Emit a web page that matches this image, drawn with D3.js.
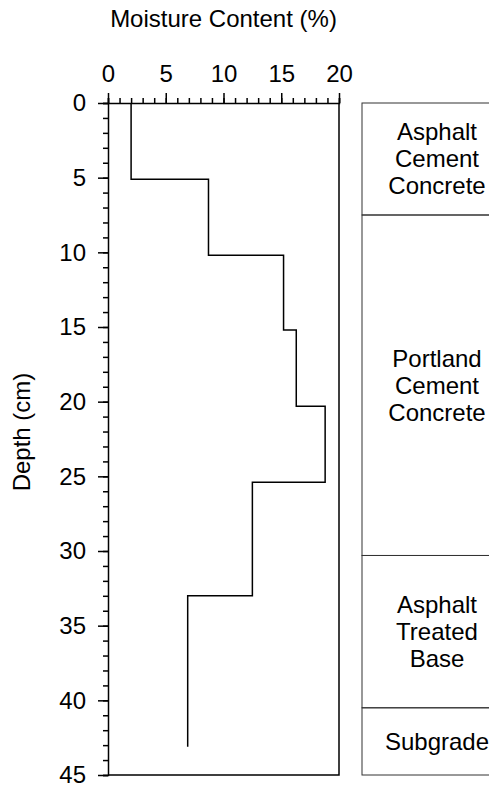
<!DOCTYPE html>
<html>
<head>
<meta charset="utf-8">
<script src="https://cdn.jsdelivr.net/npm/d3@7/dist/d3.min.js"></script>
<style>
  html, body { margin: 0; padding: 0; background: #fff; overflow: hidden; }
  svg { display: block; }
  text { font-family: "Liberation Sans", Arial, sans-serif; fill: #000; }
</style>
</head>
<body>
<svg id="chart" width="489" height="787"></svg>
<script>
// Moisture profile: each layer of constant moisture spans [depthTop, depthBottom]
const depthTop    = [0,   5.1, 10.2, 15.2, 20.3, 25.4, 33.0];
const depthBottom = [5.1, 10.2, 15.2, 20.3, 25.4, 33.0, 43.1];
const moisture    = [2.0, 8.7, 15.2, 16.3, 18.8, 12.5, 6.9];

// Pavement structure column
const layerNames  = [["Asphalt", "Cement", "Concrete"],
                     ["Portland", "Cement", "Concrete"],
                     ["Asphalt", "Treated", "Base"],
                     ["Subgrade"]];
const layerTop    = [0, 7.5, 30.3, 40.5];
const layerBottom = [7.5, 30.3, 40.5, 45];

// Axis ticks
const xMajorTicks = [0, 5, 10, 15, 20];
const yMajorTicks = [0, 5, 10, 15, 20, 25, 30, 35, 40, 45];

const svg = d3.select("#chart");
const plotL = 108, plotR = 339, plotT = 103, plotB = 775;
const fontSize = 24;

const x = d3.scaleLinear().domain([0, 20]).range([plotL, plotR]);
const y = d3.scaleLinear().domain([0, 45]).range([plotT, plotB]);

const black = "#000";

// Frame: right and bottom edges
svg.append("path")
  .attr("d", `M${x(0)},${y(45)}H${x(20)}V${y(0)}`)
  .attr("fill", "none").attr("stroke", black).attr("stroke-width", 1.5);

// Top axis: minor ticks every 1 %, labelled majors every 5 %
svg.append("g").attr("transform", `translate(0,${plotT})`)
  .call(d3.axisTop(x).tickValues(d3.range(0, 21, 1)).tickSize(5).tickFormat(""))
  .call(g => g.select(".domain").attr("stroke-width", 1.5))
  .call(g => g.selectAll(".tick line").attr("stroke-width", 1.5));
svg.append("g").attr("transform", `translate(0,${plotT})`)
  .call(d3.axisTop(x).tickValues(xMajorTicks).tickSize(10).tickPadding(11).tickFormat(d3.format("d")))
  .call(g => g.select(".domain").remove())
  .call(g => g.selectAll(".tick line").attr("stroke-width", 1.5))
  .call(g => g.selectAll("text").attr("font-size", fontSize).attr("font-family", null));

// Left axis: minor ticks every 1 cm, labelled majors every 5 cm
svg.append("g").attr("transform", `translate(${plotL},0)`)
  .call(d3.axisLeft(y).tickValues(d3.range(0, 46, 1)).tickSize(5).tickFormat(""))
  .call(g => g.select(".domain").attr("stroke-width", 1.5))
  .call(g => g.selectAll(".tick line").attr("stroke-width", 1.5));
svg.append("g").attr("transform", `translate(${plotL},0)`)
  .call(d3.axisLeft(y).tickValues(yMajorTicks).tickSize(10).tickPadding(12).tickFormat(d3.format("d")))
  .call(g => g.select(".domain").remove())
  .call(g => g.selectAll(".tick line").attr("stroke-width", 1.5))
  .call(g => g.selectAll("text").attr("font-size", fontSize).attr("font-family", null));

// Axis titles
svg.append("text")
  .attr("x", (plotL + plotR) / 2).attr("y", 27)
  .attr("text-anchor", "middle").attr("font-size", fontSize)
  .text("Moisture Content (%)");
svg.append("text")
  .attr("transform", `translate(30,${(plotT + plotB) / 2 - 7}) rotate(-90)`)
  .attr("text-anchor", "middle").attr("font-size", fontSize)
  .text("Depth (cm)");

// Stepped moisture profile
const pts = [];
moisture.forEach((m, i) => {
  pts.push([m, depthTop[i]]);
  pts.push([m, depthBottom[i]]);
});
svg.append("path")
  .datum(pts)
  .attr("d", d3.line().x(d => x(d[0])).y(d => y(d[1])))
  .attr("fill", "none").attr("stroke", black).attr("stroke-width", 1.5);

// Layer column (runs off the right edge of the figure)
const colLeft = 362, colRight = 512;
const colCenter = 437;
const lineH = 27;
const layers = svg.append("g");
layerTop.forEach((t, i) => {
  layers.append("rect")
    .attr("x", colLeft).attr("y", y(t))
    .attr("width", colRight - colLeft).attr("height", y(layerBottom[i]) - y(t))
    .attr("fill", "none").attr("stroke", "#333").attr("stroke-width", 1);
  const mid = (y(t) + y(layerBottom[i])) / 2;
  const lines = layerNames[i];
  const txt = layers.append("text")
    .attr("text-anchor", "middle").attr("font-size", fontSize);
  lines.forEach((s, k) => {
    txt.append("tspan")
      .attr("x", colCenter)
      .attr("y", mid + (k - (lines.length - 1) / 2) * lineH)
      .attr("dy", "0.35em")
      .text(s);
  });
});
</script>
</body>
</html>
